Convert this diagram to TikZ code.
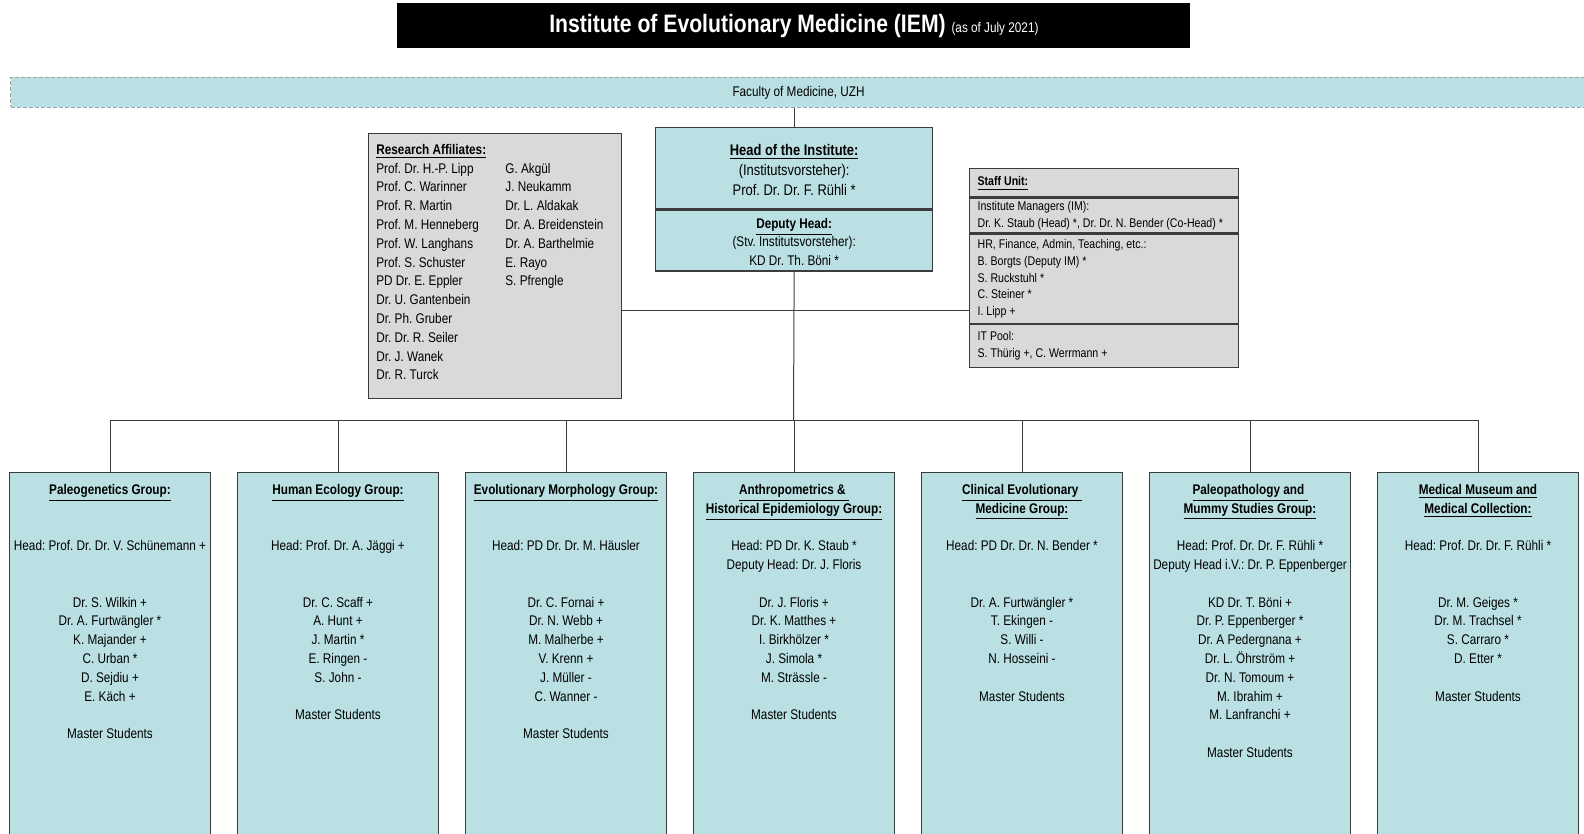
\documentclass[tikz,border=0pt]{standalone}
\usepackage{fontspec}
\setmainfont{Liberation Sans}[FakeStretch=0.84]
\usetikzlibrary{positioning}
\definecolor{iemblue}{HTML}{BAE0E3}
\definecolor{iemgray}{HTML}{D9D9D9}
\definecolor{iemline}{HTML}{3C3C3C}
\definecolor{iemdash}{HTML}{9AA6A8}
\frenchspacing
\newcommand{\grp}{\fontsize{7}{9.4}\selectfont}
\newcommand{\uhead}[1]{\strut\smash{\underline{\textbf{#1}}}}

\begin{document}
\begin{tikzpicture}[x=0.5pt,y=-0.5pt,
    conn/.style={draw=iemline,line width=0.5pt},
    bluebox/.style={draw=iemline,line width=0.65pt,fill=iemblue},
    graybox/.style={draw=iemline,line width=0.65pt,fill=iemgray},
    groupbox/.style={bluebox,anchor=north,inner sep=0pt,minimum width=100.5pt,minimum height=200pt},
    grouptext/.style={anchor=north,align=center,inner sep=0pt,font=\grp},
    staffpart/.style={graybox,anchor=north west,text width=126.5pt,inner xsep=4pt,inner ysep=0pt,align=left,font=\fontsize{6.3}{8.35}\selectfont,execute at begin node={\spaceskip=0pt \xspaceskip=0pt}}]
  \useasboundingbox (0,0) rectangle (1584,834);
  \clip (0,0) rectangle (1584,834);
  \node [fill=black, text=white, anchor=north west, inner sep=0pt,
    minimum width=396.5pt, minimum height=22.5pt] (title) at (397,3)
    {\fontsize{12.6}{14}\selectfont\textbf{Institute of Evolutionary
    Medicine (IEM)} {\fontsize{7}{8}\selectfont(as of July 2021)}};
  \node [fill=iemblue, draw=iemdash, dash pattern=on 2pt off 1pt,
    line width=0.5pt, anchor=north west, inner sep=0pt, minimum
    width=788pt, minimum height=15pt, font=\grp] (faculty) at (10,77)
    {Faculty of Medicine, UZH};
  \node [bluebox, anchor=north west, inner sep=0pt, align=center,
    minimum width=138.5pt, minimum height=40.5pt,
    font=\fontsize{7.7}{10}\selectfont] (head) at (655,127)
    {\uhead{Head of the Institute:}\\(Institutsvorsteher):\\Prof. Dr.
    Dr. F. Rühli *};
  \node [bluebox, below=0pt of head, inner sep=0pt, align=center,
    minimum width=138.5pt, minimum height=30.5pt,
    font=\fontsize{7}{9.3}\selectfont] (deputy) {\uhead{Deputy
    Head:}\\(Stv. Institutsvorsteher):\\KD Dr. Th. Böni *};
  \node [graybox, anchor=north west, inner sep=0pt, minimum
    width=126.5pt, minimum height=132.5pt] (affil) at (368,133) {};
  \node [anchor=north west, inner sep=0pt, font=\grp] (affiltxt) at
    (376,140.8) {\begin{tabular}{@{}p{64.5pt}@{}l@{}}
      \multicolumn{2}{@{}l}{\uhead{Research Affiliates:}}\\
      Prof. Dr. H.-P. Lipp & G. Akgül\\
      Prof. C. Warinner & J. Neukamm\\
      Prof. R. Martin & Dr. L. Aldakak\\
      Prof. M. Henneberg & Dr. A. Breidenstein\\
      Prof. W. Langhans & Dr. A. Barthelmie\\
      Prof. S. Schuster & E. Rayo\\
      PD Dr. E. Eppler & S. Pfrengle\\
      Dr. U. Gantenbein &\\
      Dr. Ph. Gruber &\\
      Dr. Dr. R. Seiler &\\
      Dr. J. Wanek &\\
      Dr. R. Turck &
    \end{tabular}};
  \node [staffpart, minimum height=14pt] (staffhead) at (969,168)
    {\uhead{Staff Unit:}};
  \node [staffpart, minimum height=17.5pt, below=0pt of staffhead]
    (staffim) {Institute Managers (IM):\\\mbox{Dr. K. Staub (Head) *,
    Dr. Dr. N. Bender (Co-Head) *}};
  \node [staffpart, minimum height=44.5pt, below=0pt of staffim]
    (staffhr) {HR, Finance, Admin, Teaching, etc.:\\B. Borgts (Deputy
    IM) *\\S. Ruckstuhl *\\C. Steiner *\\I. Lipp +};
  \node [staffpart, minimum height=21.5pt, below=0pt of staffhr]
    (staffit) {IT Pool:\\S. Thürig +, C. Werrmann +};
  \coordinate (hub) at (793.5,310);
  \coordinate (bus) at (793.5,420);
  \foreach \i in {1,...,7}
    \node [groupbox] (g\i) at ({794+228*(\i-4)},472) {};
  \node [grouptext] (t1) at ([yshift=-4.4pt]g1.north)
    {\uhead{Paleogenetics Group:}\\~\\~\\Head: Prof. Dr. Dr. V.
    Schünemann +\\~\\~\\Dr. S. Wilkin +\\Dr. A. Furtwängler *\\K.
    Majander +\\C. Urban *\\D. Sejdiu +\\E. Käch +\\~\\Master Students};
  \node [grouptext] (t2) at ([yshift=-4.4pt]g2.north)
    {\uhead{Human Ecology Group:}\\~\\~\\Head: Prof. Dr. A. Jäggi
    +\\~\\~\\Dr. C. Scaff +\\A. Hunt +\\J. Martin *\\E. Ringen -\\S.
    John -\\~\\Master Students};
  \node [grouptext] (t3) at ([yshift=-4.4pt]g3.north)
    {\uhead{Evolutionary Morphology Group:}\\~\\~\\Head: PD Dr. Dr. M.
    Häusler\\~\\~\\Dr. C. Fornai +\\Dr. N. Webb +\\M. Malherbe +\\V.
    Krenn +\\J. Müller -\\C. Wanner -\\~\\Master Students};
  \node [grouptext] (t4) at ([yshift=-4.4pt]g4.north)
    {\uhead{Anthropometrics \& }\\\uhead{Historical Epidemiology
    Group:}\\~\\Head: PD Dr. K. Staub *\\Deputy Head: Dr. J.
    Floris\\~\\Dr. J. Floris +\\Dr. K. Matthes +\\I. Birkhölzer *\\J.
    Simola *\\M. Strässle -\\~\\Master Students};
  \node [grouptext] (t5) at ([yshift=-4.4pt]g5.north)
    {\uhead{Clinical Evolutionary }\\\uhead{Medicine
    Group:}\\~\\Head: PD Dr. Dr. N. Bender *\\~\\~\\Dr. A. Furtwängler
    *\\T. Ekingen -\\S. Willi -\\N. Hosseini -\\~\\Master Students};
  \node [grouptext] (t6) at ([yshift=-4.4pt]g6.north)
    {\uhead{Paleopathology and }\\\uhead{Mummy Studies
    Group:}\\~\\Head: Prof. Dr. Dr. F. Rühli *\\Deputy Head i.V.: Dr.
    P. Eppenberger\\~\\KD Dr. T. Böni +\\Dr. P. Eppenberger *\\Dr. A
    Pedergnana +\\Dr. L. Öhrström +\\Dr. N. Tomoum +\\M. Ibrahim +\\M.
    Lanfranchi +\\~\\Master Students};
  \node [grouptext] (t7) at ([yshift=-4.4pt]g7.north)
    {\uhead{Medical Museum and}\\\uhead{Medical
    Collection:}\\~\\Head: Prof. Dr. Dr. F. Rühli *\\~\\~\\Dr. M.
    Geiges *\\Dr. M. Trachsel *\\S. Carraro *\\D. Etter *\\~\\Master
    Students};
  \draw [conn] (head.north |- faculty.south) -- (head.north);
  \draw [conn] (deputy.south) -- (bus);
  \draw [conn] (affil.east |- hub) -- (staffhr.west |- hub);
  \draw [conn] (g1.north |- bus) -- (g7.north |- bus);
  \foreach \i in {1,...,7} \draw [conn] (g\i.north |- bus) --
    (g\i.north);
\end{tikzpicture}
\end{document}
